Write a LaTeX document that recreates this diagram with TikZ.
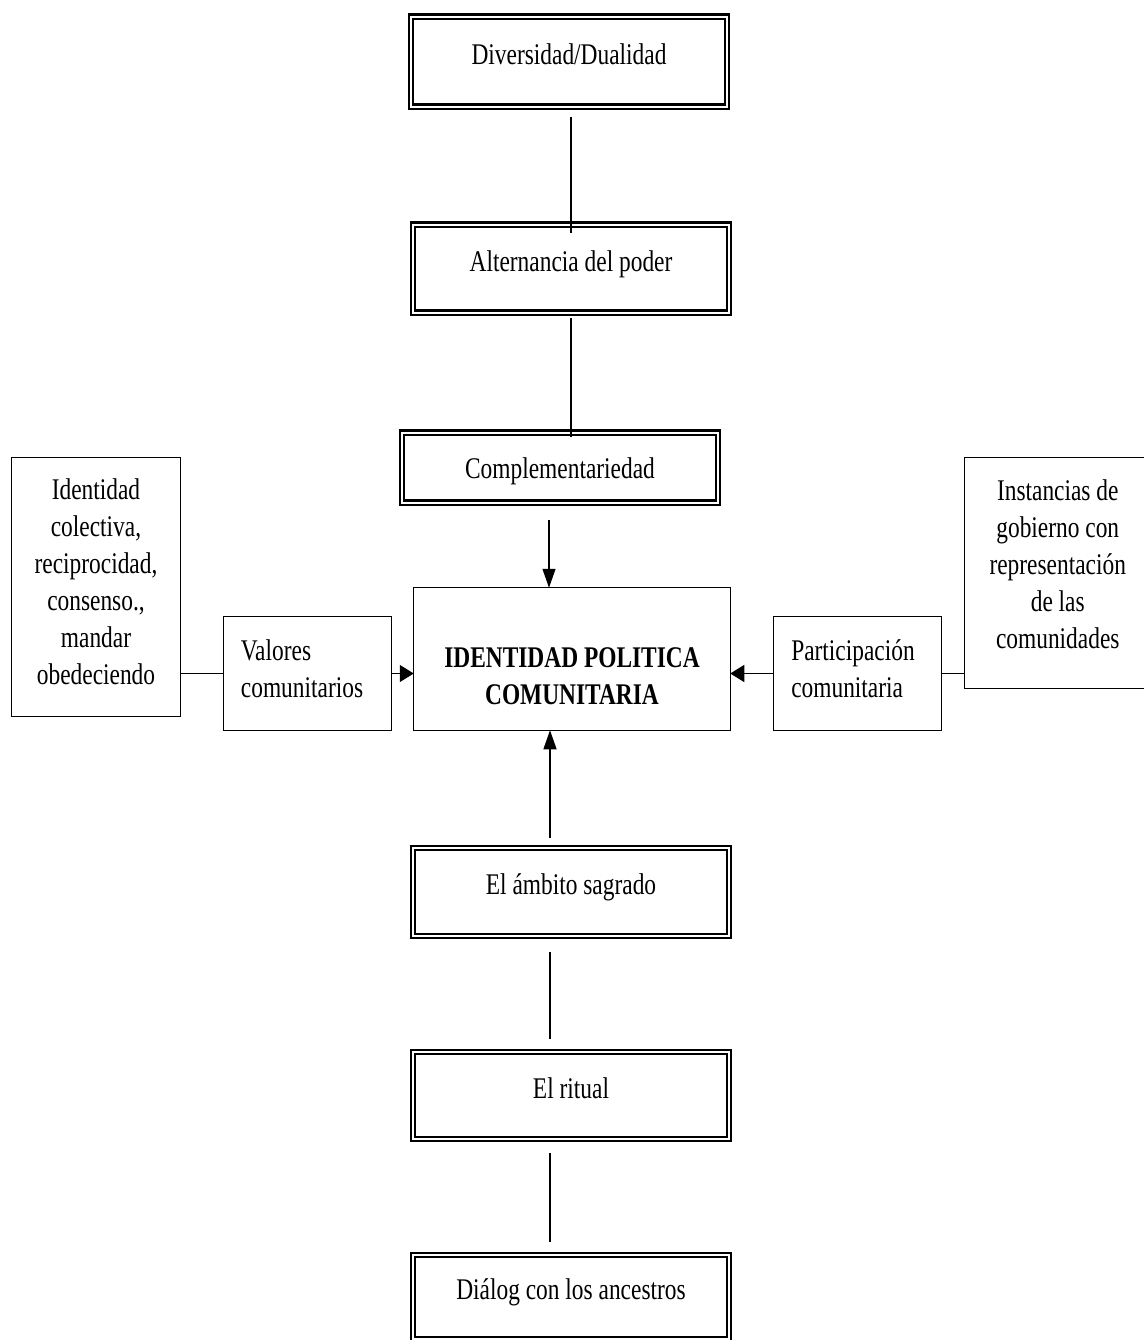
\documentclass[tikz,border=0pt]{standalone}
\usepackage{fontspec}
\setmainfont{Liberation Serif}[FakeStretch=0.78]
\usepackage{tikz}
\usetikzlibrary{arrows.meta}
\usetikzlibrary{positioning}
\tikzstyle{map_style}=[
	x=1pt, y=-1pt, outer sep=0pt,
	frame/.style={rectangle,draw,double,line width=2.5pt,double distance=1.6pt,minimum width=316pt,text height=20pt,text depth=15pt,font=\boxfont},
	plain/.style={rectangle,draw,line width=1.4pt,font=\boxfont},
	side/.style={plain,minimum width=167.5pt,minimum height=113.5pt},
	link/.style={line width=1.3pt},
	v_arrow/.style={link,-{Triangle[length=19pt,width=13pt]}},
	h_arrow/.style={link,-{Triangle[length=14pt,width=17pt]}}
]
\newcommand{\boxfont}{\fontsize{30}{37}\selectfont}
\newcommand{\boxtext}[3][@{}c@{}]{\raisebox{#2}[0pt][0pt]{\begin{tabular}{#1}#3\end{tabular}}}

\begin{document}
\begin{tikzpicture}[map_style]
	\useasboundingbox (0,0) rectangle (1143,1340);
	
	%center
	\node[plain,minimum width=316.5pt,minimum height=142.5pt] (id) at (572,659) {\bfseries\boxtext{-25.6pt}{IDENTIDAD POLITICA\\COMUNITARIA}};
	
	%top
	\node[frame,minimum height=70pt,text height=22pt,text depth=0pt] (comp) [above=85pt of id,xshift=-12pt] {Complementariedad};
	\node[frame,minimum height=88pt] (alt) [above=120pt of comp,xshift=11pt] {Alternancia del poder};
	\node[frame,minimum height=90pt] (div) [above=118pt of alt,xshift=-2pt] {Diversidad/Dualidad};
	
	%bottom
	\node[frame,minimum height=88pt] (amb) [below=117.75pt of id,xshift=-1pt] {El ámbito sagrado};
	\node[frame,minimum height=87pt] (rit) [below=116pt of amb] {El ritual};
	\node[frame,minimum height=84pt] (dia) [below=116pt of rit] {Diálog con los ancestros};
	
	%left
	\node[side] (val) [left=22.5pt of id,yshift=-14.5pt] {\boxtext[@{}l@{\hspace{11pt}}]{-4.1pt}{Valores\\comunitarios}};
	\node[plain,minimum width=168.5pt,minimum height=258.5pt] (vals) [left=43.5pt of val,yshift=86.5pt] {\boxtext{-4.1pt}{Identidad\\colectiva,\\reciprocidad,\\consenso.,\\mandar\\obedeciendo}};
	
	%right
	\node[side] (part) [right=43.5pt of id,yshift=-14.5pt] {\boxtext[@{}l@{\hspace{9pt}}]{-4.1pt}{Participación\\comunitaria}};
	\node[plain,minimum width=186pt,minimum height=230.5pt] (inst) [right=23.5pt of part,yshift=100.5pt] {\boxtext{0pt}{Instancias de\\gobierno con\\representación\\de las\\comunidades}};
	
	%arrow starts
	\coordinate (a_top) at (549,520);
	\coordinate (a_bot) at (550,838);
	
	\path[link]
	(div.south -| alt.north) edge [shorten <=10pt,shorten >=-8pt] (alt.north)
	(alt.south) edge [shorten <=5pt,shorten >=-4pt] (alt.south |- comp.north)
	(amb.south -| a_bot) edge [shorten <=16pt,shorten >=13pt] (rit.north -| a_bot)
	(rit.south -| a_bot) edge [shorten <=14pt,shorten >=13pt] (dia.north -| a_bot)
	(vals.east |- val.west) edge [] (val.west)
	(inst.west |- part.east) edge [] (part.east);
	
	\path[v_arrow]
	(a_top) edge [] (a_top |- id.north)
	(a_bot) edge [] (a_bot |- id.south);
	
	\path[h_arrow]
	(val.east) edge [] (val.east -| id.west)
	(part.west) edge [] (part.west -| id.east);
	
\end{tikzpicture}
\end{document}
